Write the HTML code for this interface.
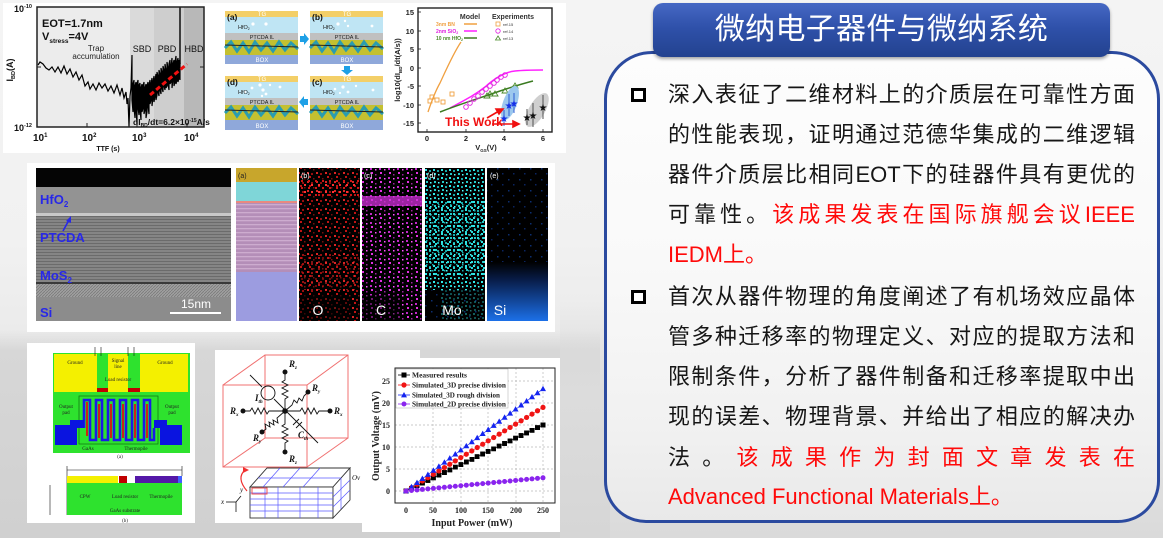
<!DOCTYPE html>
<html><head><meta charset="utf-8">
<style>
html,body{margin:0;padding:0;}
body{width:1163px;height:538px;position:relative;overflow:hidden;background:linear-gradient(180deg,#f4f4f4 0%,#f1f1f1 45%,#e6e6e6 75%,#dadada 100%);font-family:"Liberation Sans","Noto Sans CJK SC",sans-serif;}
.photo{position:absolute;left:0;top:330px;width:600px;height:208px;background:linear-gradient(180deg,rgba(215,215,215,0) 0%,rgba(215,215,215,1) 10%,rgba(208,208,208,1) 100%);}
.photo2{position:absolute;left:560px;top:300px;width:50px;height:238px;background:linear-gradient(180deg,rgba(225,225,225,0),#dcdcdc 40%,#d6d6d6);}
.box{position:absolute;left:604px;top:51px;width:550px;height:466px;border:3px solid #2b4a9f;border-radius:48px 48px 42px 42px;background:linear-gradient(180deg,#fdfdfd 0%,#f9f9f9 45%,#f1f1f1 80%,#e9e9e9 100%);}
.hdr{position:absolute;left:653px;top:3px;width:457px;height:54px;border-radius:10px;background:linear-gradient(180deg,#4668c4 0%,#2f51aa 45%,#23428f 100%);box-shadow:0 2px 3px rgba(0,0,0,.35);color:#fff;font-size:30px;line-height:54px;text-align:center;font-family:"Liberation Sans","Noto Sans CJK SC",sans-serif;letter-spacing:0.3px;}
.ln{position:absolute;left:668px;width:467px;height:40px;line-height:40px;font-size:22px;color:#161616;text-align:justify;text-align-last:justify;font-family:"Liberation Sans","Noto Sans CJK SC",sans-serif;}
.lf{text-align:left;text-align-last:left;}
.r{color:#ff0a0a;}
.bul{position:absolute;left:631px;width:15px;height:14px;border:3px solid #000;box-sizing:border-box;background:#fff;}
svg text{font-family:"Liberation Sans",sans-serif;}
.sf{font-family:"Liberation Serif",serif !important;}
</style></head>
<body>
<div class="photo"></div>
<div class="photo2"></div>

<svg xmlns="http://www.w3.org/2000/svg" width="600" height="538" style="position:absolute;left:0;top:0">
<defs>
<pattern id="pR" width="9" height="9" patternUnits="userSpaceOnUse">
 <rect x="1" y="1" width="2" height="2" fill="#ff2a2a"/><rect x="5" y="2" width="2" height="2" fill="#b01010"/>
 <rect x="3" y="5" width="2" height="2" fill="#e01818"/><rect x="7" y="7" width="1.5" height="1.5" fill="#901010"/>
</pattern>
<pattern id="pR2" width="7" height="7" patternUnits="userSpaceOnUse" patternTransform="translate(3,2)">
 <rect x="0" y="0" width="2" height="2" fill="#ff3030"/><rect x="4" y="3" width="2" height="2" fill="#d01515"/>
</pattern>
<pattern id="pM" width="9" height="9" patternUnits="userSpaceOnUse">
 <rect x="2" y="1" width="2" height="2" fill="#e030e0"/><rect x="6" y="3" width="1.5" height="1.5" fill="#a020a0"/>
 <rect x="1" y="6" width="2" height="2" fill="#c028c8"/><rect x="6" y="7" width="1.5" height="1.5" fill="#ff50ff"/>
</pattern>
<pattern id="pC" width="8" height="8" patternUnits="userSpaceOnUse">
 <rect x="1" y="1" width="2" height="2" fill="#30e8e8"/><rect x="5" y="2" width="2" height="2" fill="#18a8a8"/>
 <rect x="2" y="5" width="2" height="2" fill="#22c8c8"/><rect x="6" y="6" width="1.5" height="1.5" fill="#50ffff"/>
</pattern>
<pattern id="pC2" width="6" height="6" patternUnits="userSpaceOnUse" patternTransform="translate(3,3)">
 <rect x="0" y="0" width="2" height="2" fill="#2ad8d8"/><rect x="3" y="3" width="1.5" height="1.5" fill="#1ab0b0"/>
</pattern>
<pattern id="pB" width="11" height="11" patternUnits="userSpaceOnUse">
 <rect x="2" y="3" width="1.5" height="1.5" fill="#0c2e70"/><rect x="7" y="8" width="1.5" height="1.5" fill="#0a2460"/>
</pattern>
<pattern id="pS" width="4" height="3" patternUnits="userSpaceOnUse"><rect width="4" height="3" fill="#858585"/><rect width="4" height="1" fill="#6b6b6b"/></pattern>
<pattern id="pH" width="3" height="3" patternUnits="userSpaceOnUse"><rect width="3" height="3" fill="#a0a0a0"/><path d="M0,3 L3,0" stroke="#7a7a7a" stroke-width="0.8"/></pattern>
<pattern id="pP" width="4" height="4" patternUnits="userSpaceOnUse"><rect width="4" height="4" fill="#b48eb8"/><rect width="4" height="1.3" fill="#cdaccf"/></pattern>
<linearGradient id="gSi" x1="0" y1="0" x2="0" y2="1"><stop offset="0" stop-color="#000"/><stop offset="0.3" stop-color="#081c48"/><stop offset="1" stop-color="#1c70e8"/></linearGradient>
<marker id="mSq" markerWidth="5" markerHeight="5" refX="2.5" refY="2.5" markerUnits="userSpaceOnUse"><rect width="5" height="5" fill="#000"/></marker>
<marker id="mCi" markerWidth="6" markerHeight="6" refX="3" refY="3" markerUnits="userSpaceOnUse"><circle cx="3" cy="3" r="2.6" fill="#f01414"/></marker>
<marker id="mTr" markerWidth="6" markerHeight="6" refX="3" refY="3.2" markerUnits="userSpaceOnUse"><path d="M3,0 L6,5.4 L0,5.4Z" fill="#1424f0"/></marker>
<marker id="mDi" markerWidth="6" markerHeight="6" refX="3" refY="3" markerUnits="userSpaceOnUse"><circle cx="3" cy="3" r="2.5" fill="#8a24ee"/></marker>
</defs>

<!-- ===== TOP PANEL ===== -->
<rect x="3" y="3" width="563" height="150" fill="#fff"/>
<rect x="37" y="7" width="93" height="120" fill="#ececec"/>
<rect x="130" y="7" width="24" height="120" fill="#dadada"/>
<rect x="154" y="7" width="30" height="120" fill="#cecece"/>
<rect x="184" y="7" width="20" height="120" fill="#b8b8b8"/>
<line x1="180" y1="7" x2="180" y2="64" stroke="#000" stroke-width="1.4"/>
<polyline fill="none" stroke="#000" stroke-width="1.2" points="38,65 40,62 43,64 46,68 49,70 52,67 55,72 58,67 61,73 64,66 67,74 70,69 73,77 76,72 79,80 82,75 85,86 88,82 90,89 93,84 96,90 99,83 102,88 105,84 108,91 111,86 114,93 117,85 120,95 122,88 124,98 126,92 127,104 128,98 129,127 130,96 131,88 132,55 132,100 133,112 133,84 134,80 134,108 135,118 135,86 136,82 136,110 137,124 137,84 138,80 138,108 139,115 139,85 140,83 140,110 141,120 141,88 142,84 142,112 143,108 143,86 144,82 144,114 145,110 145,88 146,84 146,118 147,112 147,86 148,82 148,106 149,114 149,85 150,80 150,104 151,100 151,84 152,78 152,106 153,98 153,82 154,76 154,102 155,96 155,80 156,74 156,100 157,95 157,72 158,76 158,92 159,96 159,70 160,74 160,90 161,94 161,68 162,72 162,88 163,92 163,66 164,70 164,86 165,90 165,64 166,70 166,88 167,86 167,62 168,68 168,84 169,90 169,64 170,60 170,84 171,82 171,66 172,58 172,88 173,80 173,64 174,60 174,86 175,82 175,62 176,56 176,84 177,80 177,62 178,58 178,82 179,78 179,60 180,63 180,80"/>
<line x1="150" y1="95" x2="187" y2="64" stroke="#f01010" stroke-width="3" stroke-dasharray="5,3"/>
<rect x="37" y="7" width="167" height="120" fill="none" stroke="#222" stroke-width="1.5"/>
<g stroke="#222" stroke-width="1"><line x1="87" y1="127" x2="87" y2="123"/><line x1="137" y1="127" x2="137" y2="123"/><line x1="187" y1="127" x2="187" y2="123"/><line x1="37" y1="67" x2="41" y2="67"/><line x1="204" y1="67" x2="200" y2="67"/></g>
<g font-weight="bold" fill="#111">
<text x="14" y="12" font-size="9">10<tspan font-size="5.5" dy="-4">-10</tspan></text>
<text x="14" y="131" font-size="9">10<tspan font-size="5.5" dy="-4">-12</tspan></text>
<text x="33" y="141" font-size="10">10<tspan font-size="6" dy="-4">1</tspan></text>
<text x="82" y="141" font-size="10">10<tspan font-size="6" dy="-4">2</tspan></text>
<text x="132" y="141" font-size="10">10<tspan font-size="6" dy="-4">3</tspan></text>
<text x="184" y="141" font-size="10">10<tspan font-size="6" dy="-4">4</tspan></text>
<text x="108" y="151" font-size="7" text-anchor="middle">TTF (s)</text>
<text transform="translate(13,70) rotate(-90)" font-size="9" text-anchor="middle">I<tspan font-size="5.5" dy="2">BD</tspan><tspan dy="-2">(A)</tspan></text>
<text x="42" y="27" font-size="11">EOT=1.7nm</text>
<text x="42" y="40" font-size="11">V<tspan font-size="6.5" dy="3">stress</tspan><tspan dy="-3">=4V</tspan></text>
<text x="142" y="52" font-size="9" text-anchor="middle" font-weight="normal">SBD</text>
<text x="167" y="52" font-size="9" text-anchor="middle" font-weight="normal">PBD</text>
<text x="194" y="52" font-size="9" text-anchor="middle" font-weight="normal">HBD</text>
<text x="133" y="125" font-size="8.5">dI<tspan font-size="5" dy="2">BD</tspan><tspan dy="-2">/dt=6.2×10</tspan><tspan font-size="5" dy="-3">-15</tspan><tspan dy="3">A/s</tspan></text>
</g>
<text x="96" y="51" font-size="8" text-anchor="middle" fill="#222">Trap</text>
<text x="96" y="59" font-size="8" text-anchor="middle" fill="#222">accumulation</text>

<!-- plot 2 schematic -->
<g>
<rect x="225" y="11" width="73" height="6" fill="#f3cf68"/><rect x="225" y="17" width="73" height="16" fill="#bfe5f4"/><rect x="225" y="33" width="73" height="7" fill="#c0c0c0"/><rect x="225" y="40" width="73" height="15" fill="#c4c030"/><polyline points="225,48 231,42 237,51 243,43 249,52 255,42 261,50 267,43 273,51 279,42 285,50 291,43 298,49" fill="none" stroke="#2a9cb0" stroke-width="3"/><line x1="225" y1="45" x2="298" y2="47" stroke="#222" stroke-width="1"/><rect x="225" y="55" width="73" height="9" fill="#8fa8da"/>
<rect x="310" y="11" width="73" height="6" fill="#f3cf68"/><rect x="310" y="17" width="73" height="16" fill="#bfe5f4"/><rect x="310" y="33" width="73" height="7" fill="#c0c0c0"/><rect x="310" y="40" width="73" height="15" fill="#c4c030"/><polyline points="310,48 316,42 322,51 328,43 334,52 340,42 346,50 352,43 358,51 364,42 370,50 376,43 383,49" fill="none" stroke="#2a9cb0" stroke-width="3"/><line x1="310" y1="45" x2="383" y2="47" stroke="#222" stroke-width="1"/><rect x="310" y="55" width="73" height="9" fill="#8fa8da"/>
<rect x="225" y="76" width="73" height="6" fill="#f3cf68"/><rect x="225" y="82" width="73" height="16" fill="#bfe5f4"/><rect x="225" y="98" width="73" height="7" fill="#c0c0c0"/><rect x="225" y="105" width="73" height="15" fill="#c4c030"/><polyline points="225,113 231,107 237,116 243,108 249,117 255,107 261,115 267,108 273,116 279,107 285,115 291,108 298,114" fill="none" stroke="#2a9cb0" stroke-width="3"/><line x1="225" y1="110" x2="298" y2="112" stroke="#222" stroke-width="1"/><rect x="225" y="120" width="73" height="10" fill="#8fa8da"/>
<rect x="310" y="76" width="73" height="6" fill="#f3cf68"/><rect x="310" y="82" width="73" height="16" fill="#bfe5f4"/><rect x="310" y="98" width="73" height="7" fill="#c0c0c0"/><rect x="310" y="105" width="73" height="15" fill="#c4c030"/><polyline points="310,113 316,107 322,116 328,108 334,117 340,107 346,115 352,108 358,116 364,107 370,115 376,108 383,114" fill="none" stroke="#2a9cb0" stroke-width="3"/><line x1="310" y1="110" x2="383" y2="112" stroke="#222" stroke-width="1"/><rect x="310" y="120" width="73" height="10" fill="#8fa8da"/>
</g>
<g fill="#fff">
<circle cx="253" cy="24" r="1.6"/><circle cx="266" cy="24" r="1.6"/>
<circle cx="338" cy="24" r="1.6"/><circle cx="345" cy="21" r="1.2"/><circle cx="348" cy="26" r="1.2"/><circle cx="372" cy="26" r="1.4"/>
<circle cx="335" cy="89" r="1.3"/><circle cx="343" cy="87" r="1.6"/><circle cx="348" cy="92" r="1.4"/><circle cx="356" cy="86" r="1.2"/><circle cx="373" cy="90" r="1.4"/><circle cx="340" cy="93" r="1.1"/>
<circle cx="252" cy="88" r="1.4"/><circle cx="260" cy="85" r="1.6"/><circle cx="263" cy="90" r="1.6"/><circle cx="266" cy="94" r="1.4"/><circle cx="262" cy="96" r="1.2"/><circle cx="280" cy="87" r="1.4"/><circle cx="270" cy="85" r="1.2"/><circle cx="245" cy="92" r="1.1"/>
</g>
<g font-size="8.5" font-weight="bold" fill="#111"><text x="227" y="20">(a)</text><text x="312" y="20">(b)</text><text x="227" y="85">(d)</text><text x="312" y="85">(c)</text></g>
<g font-size="6" fill="#fff" text-anchor="middle"><text x="262" y="16">TG</text><text x="347" y="16">TG</text><text x="262" y="81">TG</text><text x="347" y="81">TG</text><text x="262" y="62">BOX</text><text x="347" y="62">BOX</text><text x="262" y="128">BOX</text><text x="347" y="128">BOX</text></g>
<g font-size="5.5" fill="#222"><text x="238" y="29">HfO<tspan font-size="3.5" dy="1">2</tspan></text><text x="323" y="29">HfO<tspan font-size="3.5" dy="1">2</tspan></text><text x="238" y="94">HfO<tspan font-size="3.5" dy="1">2</tspan></text><text x="323" y="94">HfO<tspan font-size="3.5" dy="1">2</tspan></text></g>
<g font-size="5.5" fill="#222" text-anchor="middle"><text x="262" y="39">PTCDA IL</text><text x="347" y="39">PTCDA IL</text><text x="262" y="104">PTCDA IL</text><text x="347" y="104">PTCDA IL</text></g>
<g fill="#1ea0e6"><path d="M300,36 L304,36 L304,33 L309,39 L304,45 L304,42 L300,42Z"/><path d="M344,66 L350,66 L350,70 L353,70 L347,75 L341,70 L344,70Z"/><path d="M308,99 L304,99 L304,96 L299,102 L304,108 L304,105 L308,105Z"/></g>

<!-- plot 3 -->
<rect x="418" y="8" width="134" height="124" fill="#fff" stroke="#222" stroke-width="1.4"/>
<g stroke="#222" stroke-width="0.8"><line x1="418" y1="12" x2="421" y2="12"/><line x1="418" y1="31" x2="421" y2="31"/><line x1="418" y1="49" x2="421" y2="49"/><line x1="418" y1="68" x2="421" y2="68"/><line x1="418" y1="86" x2="421" y2="86"/><line x1="418" y1="105" x2="421" y2="105"/><line x1="418" y1="123" x2="421" y2="123"/><line x1="427" y1="132" x2="427" y2="129"/><line x1="466" y1="132" x2="466" y2="129"/><line x1="504" y1="132" x2="504" y2="129"/><line x1="543" y1="132" x2="543" y2="129"/></g>
<g font-size="7.5" font-weight="bold" fill="#222" text-anchor="end"><text x="414" y="15">15</text><text x="414" y="34">10</text><text x="414" y="52">5</text><text x="414" y="71">0</text><text x="414" y="89">-5</text><text x="414" y="108">-10</text><text x="414" y="126">-15</text></g>
<g font-size="7.5" font-weight="bold" fill="#222" text-anchor="middle"><text x="427" y="141">0</text><text x="466" y="141">2</text><text x="504" y="141">4</text><text x="543" y="141">6</text></g>
<text x="486" y="150" font-size="7.5" font-weight="bold" fill="#222" text-anchor="middle">V<tspan font-size="4.5" dy="2">GS</tspan><tspan dy="-2">(V)</tspan></text>
<text transform="translate(400,70) rotate(-90)" font-size="7.5" font-weight="bold" fill="#222" text-anchor="middle">log10(dI<tspan font-size="4.5" dy="2">BD</tspan><tspan dy="-2">/dt(A/s))</tspan></text>
<text x="470" y="19" font-size="7" font-weight="bold" fill="#333" text-anchor="middle">Model</text>
<text x="513" y="19" font-size="7" font-weight="bold" fill="#333" text-anchor="middle">Experiments</text>
<g font-size="5" font-weight="bold"><text x="436" y="26" fill="#f0a040">3nm BN</text><text x="436" y="33" fill="#e020e0">2nm SiO<tspan font-size="3.5" dy="1">2</tspan></text><text x="436" y="40" fill="#4a8a2a">10 nm HfO<tspan font-size="3.5" dy="1">2</tspan></text></g>
<line x1="464" y1="24" x2="477" y2="24" stroke="#f0a040" stroke-width="1.5"/><line x1="464" y1="31" x2="477" y2="31" stroke="#ff20ff" stroke-width="1.5"/><line x1="464" y1="38" x2="477" y2="38" stroke="#3a7a20" stroke-width="1.5"/>
<rect x="496" y="22" width="4" height="4" fill="none" stroke="#f0a040" stroke-width="0.8"/><circle cx="498" cy="31" r="2.2" fill="none" stroke="#e020e0" stroke-width="0.8"/><path d="M498,36 L500.5,40 L495.5,40Z" fill="none" stroke="#4a8a2a" stroke-width="0.8"/>
<g font-size="4" fill="#333"><text x="503" y="26">ref.15</text><text x="503" y="33">ref.14</text><text x="503" y="40">ref.13</text></g>
<path d="M428,112 C432,100 436,90 440,83 C446,70 454,52 461,42" fill="none" stroke="#f0a040" stroke-width="1.3"/>
<path d="M450,108 C465,100 475,95 485,87 C495,78 505,72 515,71 C525,70 535,70 543,70" fill="none" stroke="#ff20ff" stroke-width="1.5"/>
<path d="M440,112 C460,104 480,98 500,91 C515,86 525,83 533,81" fill="none" stroke="#3a7a20" stroke-width="1.5"/>
<g fill="none" stroke="#f0a040" stroke-width="0.9"><rect x="430" y="95" width="4" height="4"/><rect x="428" y="99" width="4" height="4"/><rect x="435" y="98" width="4" height="4"/><rect x="441" y="100" width="4" height="4"/><rect x="450" y="92" width="4" height="4"/></g>
<g fill="none" stroke="#e020e0" stroke-width="0.9"><circle cx="466" cy="107" r="2.3"/><circle cx="470" cy="103" r="2.3"/><circle cx="474" cy="99" r="2.3"/><circle cx="478" cy="96" r="2.3"/><circle cx="482" cy="92" r="2.3"/><circle cx="486" cy="89" r="2.3"/><circle cx="490" cy="86" r="2.3"/><circle cx="494" cy="83" r="2.3"/><circle cx="497" cy="80" r="2.3"/><circle cx="501" cy="77" r="2.3"/><circle cx="505" cy="75" r="2.3"/></g>
<g fill="none" stroke="#4a8a2a" stroke-width="0.9"><path d="M487,93 L490,98 L484,98Z"/><path d="M490,91 L493,96 L487,96Z"/><path d="M495,91 L498,96 L492,96Z"/><path d="M505,88 L508,93 L502,93Z"/><path d="M513,86 L516,91 L510,91Z"/><path d="M515,83 L518,88 L512,88Z"/></g>
<ellipse cx="510" cy="103" rx="7" ry="18" transform="rotate(20 510 103)" fill="#9cc8ee"/>
<ellipse cx="537" cy="110" rx="8" ry="19" transform="rotate(30 537 110)" fill="#cfcfcf"/>
<g stroke="#2050d0" stroke-width="0.9"><line x1="504" y1="110" x2="504" y2="126"/><line x1="509" y1="94" x2="509" y2="116"/><line x1="514" y1="93" x2="514" y2="113"/></g>
<g stroke="#444" stroke-width="0.9"><line x1="527" y1="109" x2="527" y2="125"/><line x1="533" y1="103" x2="533" y2="127"/><line x1="543" y1="95" x2="543" y2="119"/></g>
<g font-size="10" text-anchor="middle"><text x="504" y="122" fill="#1530e8" style="font-family:'DejaVu Sans'">★</text><text x="509" y="109" fill="#1530e8" style="font-family:'DejaVu Sans'">★</text><text x="514" y="107" fill="#1530e8" style="font-family:'DejaVu Sans'">★</text><text x="527" y="121" fill="#111" style="font-family:'DejaVu Sans'">★</text><text x="533" y="119" fill="#111" style="font-family:'DejaVu Sans'">★</text><text x="543" y="111" fill="#111" style="font-family:'DejaVu Sans'">★</text></g>
<text x="445" y="126" font-size="12" font-weight="bold" fill="#f01010">This Work</text>
<g stroke="#f01010" stroke-width="1.6" fill="#f01010"><line x1="487" y1="118" x2="499" y2="111"/><path d="M503,109 L496,109 L499,114Z"/><line x1="492" y1="124" x2="514" y2="124"/><path d="M519,124 L513,121 L513,127Z"/></g>

<!-- ===== MIDDLE PANEL ===== -->
<rect x="27" y="163" width="528" height="169" fill="#fff"/>
<rect x="36" y="168" width="195" height="19" fill="#050505"/>
<rect x="36" y="187" width="195" height="26" fill="#939393"/>
<rect x="36" y="213" width="195" height="3" fill="#c9c9c9"/>
<rect x="36" y="216" width="195" height="66" fill="url(#pS)"/>
<rect x="36" y="282" width="195" height="2" fill="#3a3a3a"/>
<rect x="36" y="284" width="195" height="13" fill="url(#pH)"/>
<rect x="36" y="297" width="195" height="24" fill="#8c8c8c"/>
<g fill="#2828e8" font-weight="bold" font-size="13">
<text x="40" y="204">HfO<tspan font-size="8" dy="3">2</tspan></text>
<text x="40" y="242">PTCDA</text>
<text x="40" y="280">MoS<tspan font-size="8" dy="3">2</tspan></text>
<text x="40" y="317">Si</text>
</g>
<line x1="63" y1="231" x2="69" y2="220" stroke="#2828e8" stroke-width="1.6"/><path d="M71,216 L66,221 L71,223Z" fill="#2828e8"/>
<line x1="170" y1="313" x2="221" y2="313" stroke="#fff" stroke-width="2"/>
<text x="196" y="308" font-size="12" fill="#fff" text-anchor="middle">15nm</text>
<rect x="236" y="168" width="61" height="14" fill="#c8a62c"/>
<rect x="236" y="182" width="61" height="19" fill="#7fd6d8"/>
<rect x="236" y="201" width="61" height="2" fill="#e88a80"/>
<rect x="236" y="203" width="61" height="69" fill="url(#pP)"/>
<rect x="236" y="272" width="61" height="49" fill="#9c9ce0"/>
<text x="238" y="178" font-size="7" fill="#222">(a)</text>
<rect x="299" y="168" width="61" height="153" fill="#000"/>
<rect x="299" y="168" width="61" height="153" fill="url(#pR)" opacity="0.85"/>
<rect x="299" y="180" width="61" height="16" fill="url(#pR2)"/>
<rect x="299" y="255" width="61" height="35" fill="url(#pR2)" opacity="0.5"/>
<rect x="299" y="295" width="50" height="26" fill="#000" opacity="0.5"/>
<rect x="362" y="168" width="60" height="153" fill="#000"/>
<rect x="362" y="168" width="60" height="153" fill="url(#pM)"/>
<rect x="362" y="196" width="60" height="10" fill="#d030d8" opacity="0.75"/>
<rect x="362" y="295" width="40" height="26" fill="#000" opacity="0.5"/>
<rect x="425" y="168" width="60" height="153" fill="#000"/>
<rect x="425" y="168" width="60" height="122" fill="url(#pC)"/>
<rect x="425" y="200" width="60" height="75" fill="url(#pC2)"/>
<rect x="425" y="290" width="60" height="31" fill="url(#pB)"/>
<rect x="440" y="290" width="45" height="31" fill="url(#pC)" opacity="0.4"/>
<rect x="487" y="168" width="61" height="153" fill="#000"/>
<rect x="487" y="168" width="61" height="153" fill="url(#pB)"/>
<rect x="487" y="262" width="61" height="59" fill="url(#gSi)"/>
<g fill="#fff" font-size="7"><text x="301" y="178">(b)</text><text x="364" y="178">(c)</text><text x="427" y="178">(d)</text><text x="490" y="178">(e)</text></g>
<g fill="#fff" font-size="14" text-anchor="middle"><text x="318" y="315">O</text><text x="381" y="315">C</text><text x="452" y="315">Mo</text><text x="500" y="315">Si</text></g>

<!-- ===== BOTTOM PANEL 1 ===== -->
<rect x="27" y="343" width="168" height="180" fill="#fff"/>
<rect x="53" y="353" width="137" height="100" fill="#2ee22e"/>
<rect x="54" y="354" width="43" height="38" fill="#f4f000"/>
<rect x="108" y="354" width="20" height="38" fill="#f4f000"/>
<rect x="140" y="354" width="48" height="38" fill="#f4f000"/>
<rect x="97" y="388" width="11" height="4" fill="#c00000"/>
<rect x="128" y="388" width="12" height="4" fill="#c00000"/>
<rect x="79" y="396" width="79" height="48" fill="none" stroke="#137a13" stroke-width="0.8"/>
<path d="M84,428 V400 H90 V440 H96 V400 H102 V440 H108 V400 H114 V440 H120 V400 H126 V440 H132 V400 H138 V440 H144 V400 H150 V440 H154 V428" fill="none" stroke="#1a1ae8" stroke-width="2.6"/>
<g stroke="#e01010" stroke-width="1.8"><line x1="87" y1="402" x2="87" y2="436"/><line x1="99" y1="404" x2="99" y2="438"/><line x1="111" y1="404" x2="111" y2="438"/><line x1="123" y1="404" x2="123" y2="438"/><line x1="135" y1="404" x2="135" y2="438"/><line x1="147" y1="404" x2="147" y2="438"/></g>
<path d="M55,425 H70 V420 H84 V428 H77 V445 H55Z" fill="#0a14e0"/>
<path d="M182,425 H167 V420 H154 V428 H160 V445 H182Z" fill="#0a14e0"/>
<g font-size="5" fill="#222" text-anchor="middle">
<text x="75" y="364" class="sf">Ground</text><text x="165" y="364" class="sf">Ground</text>
<text x="118" y="362" class="sf">Signal</text><text x="118" y="368" class="sf">line</text>
<text x="118" y="381" class="sf">Load resistor</text>
<text x="66" y="408" class="sf">Output</text><text x="66" y="414" class="sf">pad</text>
<text x="172" y="408" class="sf">Output</text><text x="172" y="414" class="sf">pad</text>
<text x="88" y="450" class="sf">GaAs</text><text x="136" y="450" class="sf">Thermopile</text>
<text x="120" y="458" class="sf">(a)</text>
<text x="125" y="522" class="sf">(b)</text>
</g>
<g stroke="#111" stroke-width="0.6"><line x1="95" y1="347" x2="95" y2="356"/><line x1="101" y1="347" x2="101" y2="356"/><line x1="128" y1="347" x2="128" y2="356"/><line x1="134" y1="347" x2="134" y2="356"/><line x1="67" y1="470" x2="182" y2="470"/><line x1="67" y1="466" x2="67" y2="515"/><line x1="182" y1="466" x2="182" y2="476"/><line x1="50" y1="485" x2="50" y2="515"/></g>
<rect x="67" y="476" width="51" height="7" fill="#f4f000"/>
<rect x="119" y="476" width="8" height="7" fill="#c00000"/>
<rect x="135" y="476" width="43" height="7" fill="#5418a8"/>
<rect x="178" y="476" width="4" height="7" fill="#4060ff"/>
<rect x="67" y="483" width="115" height="32" fill="#2ee22e"/>
<text x="125" y="512" font-size="5" fill="#222" text-anchor="middle" class="sf">GaAs substrate</text>
<text x="85" y="498" font-size="5" fill="#222" text-anchor="middle" class="sf">CPW</text>
<text x="125" y="498" font-size="5" fill="#222" text-anchor="middle" class="sf">Load resistor</text>
<text x="161" y="498" font-size="5" fill="#222" text-anchor="middle" class="sf">Thermopile</text>

<!-- ===== BOTTOM PANEL 2 ===== -->
<rect x="215" y="350" width="160" height="173" fill="#fff"/>
<rect x="375" y="350" width="45" height="9" fill="#fff"/>
<g stroke="#f07070" stroke-width="1" fill="none">
<rect x="223" y="385" width="84" height="82"/><rect x="265" y="355" width="83" height="83"/>
<line x1="223" y1="385" x2="265" y2="355"/><line x1="307" y1="385" x2="348" y2="355"/><line x1="223" y1="467" x2="265" y2="438"/><line x1="307" y1="467" x2="348" y2="438"/>
</g>
<g stroke="#111" stroke-width="0.9" fill="none">
<polyline points="285,372 285,380 282,382 288,385 282,388 288,391 282,394 288,397 285,399 285,424 282,426 288,429 282,432 288,435 282,438 288,441 285,443 285,452"/>
<polyline points="243,411 250,411 252,408 255,414 258,408 261,414 264,408 267,414 269,411 300,411 302,408 305,414 308,408 311,414 314,408 317,414 319,411 330,411"/>
<polyline points="262,432 266,429 265,424 270,427 269,422 274,425 273,420 278,423 277,418 285,411 292,405 294,400 297,403 299,398 302,401 304,396 308,392"/>
<line x1="250" y1="375" x2="262" y2="387"/><line x1="274" y1="399" x2="318" y2="443"/>
<circle cx="268" cy="393" r="7"/>
<line x1="293" y1="425" x2="299" y2="419"/><line x1="296" y1="428" x2="302" y2="422"/>
</g>
<g fill="#111"><circle cx="285" cy="372" r="2.5"/><circle cx="285" cy="452" r="2.5"/><circle cx="243" cy="411" r="2.5"/><circle cx="330" cy="411" r="2.5"/><circle cx="262" cy="432" r="2.5"/><circle cx="308" cy="392" r="2.5"/><circle cx="285" cy="411" r="2.8"/></g>
<g font-size="9" font-style="italic" font-weight="bold" fill="#111">
<text x="289" y="367" class="sf">R<tspan font-size="5" dy="2">z</tspan></text><text x="289" y="462" class="sf">R<tspan font-size="5" dy="2">z</tspan></text>
<text x="230" y="414" class="sf">R<tspan font-size="5" dy="2">x</tspan></text><text x="334" y="414" class="sf">R<tspan font-size="5" dy="2">x</tspan></text>
<text x="253" y="441" class="sf">R<tspan font-size="5" dy="2">y</tspan></text><text x="312" y="391" class="sf">R<tspan font-size="5" dy="2">y</tspan></text>
<text x="255" y="401" class="sf">I<tspan font-size="5" dy="2">th</tspan></text><text x="298" y="438" class="sf">C<tspan font-size="5" dy="2">th</tspan></text>
</g>
<polygon points="250,487 267,468 350,468 333,487" fill="#fff" stroke="#333" stroke-width="0.9"/>
<rect x="250" y="487" width="83" height="31" fill="#fff" stroke="#333" stroke-width="0.9"/>
<polygon points="333,487 350,468 350,500 333,518" fill="#fff" stroke="#333" stroke-width="0.9"/>
<g stroke="#5a5aff" stroke-width="0.7">
<line x1="250" y1="493" x2="333" y2="493"/><line x1="250" y1="499" x2="333" y2="499"/><line x1="250" y1="505" x2="333" y2="505"/><line x1="250" y1="511" x2="333" y2="511"/>
<line x1="265" y1="487" x2="265" y2="518"/><line x1="278" y1="487" x2="278" y2="518"/><line x1="300" y1="487" x2="300" y2="518"/><line x1="318" y1="487" x2="318" y2="518"/>
<line x1="258" y1="478" x2="341" y2="478"/><line x1="280" y1="468" x2="263" y2="487"/><line x1="300" y1="468" x2="283" y2="487"/><line x1="320" y1="468" x2="303" y2="487"/>
<line x1="333" y1="497" x2="350" y2="480"/><line x1="333" y1="507" x2="350" y2="490"/><line x1="341" y1="478" x2="341" y2="509"/>
</g>
<rect x="252" y="488" width="15" height="6" fill="none" stroke="#f05050" stroke-width="1"/>
<path d="M247,491 Q236,478 245,470" fill="none" stroke="#f03030" stroke-width="1.2"/><path d="M243,467 L249,470 L243,473Z" fill="#f03030"/>
<g font-size="7" font-style="italic" fill="#111"><text x="221" y="504" class="sf">x</text><text x="240" y="492" class="sf">y</text><text x="352" y="480" class="sf">Ov</text></g>
<g stroke="#111" stroke-width="0.8"><line x1="226" y1="502" x2="236" y2="502"/><line x1="236" y1="502" x2="241" y2="496"/><line x1="236" y1="502" x2="236" y2="512"/></g>

<!-- ===== BOTTOM PANEL 3 ===== -->
<rect x="362" y="358" width="198" height="174" fill="#fff"/>
<g stroke="#b8b8b8" stroke-width="0.7" stroke-dasharray="2,2">
<line x1="433" y1="368" x2="433" y2="503"/><line x1="461" y1="368" x2="461" y2="503"/><line x1="488" y1="368" x2="488" y2="503"/><line x1="516" y1="368" x2="516" y2="503"/><line x1="543" y1="368" x2="543" y2="503"/>
<line x1="395" y1="491" x2="555" y2="491"/><line x1="395" y1="469" x2="555" y2="469"/><line x1="395" y1="447" x2="555" y2="447"/><line x1="395" y1="425" x2="555" y2="425"/><line x1="395" y1="403" x2="555" y2="403"/><line x1="395" y1="381" x2="555" y2="381"/>
</g>
<rect x="395" y="368" width="160" height="135" fill="none" stroke="#222" stroke-width="1"/>
<g font-size="8" font-weight="bold" fill="#222" text-anchor="middle">
<text x="406" y="513" class="sf">0</text><text x="433" y="513" class="sf">50</text><text x="461" y="513" class="sf">100</text><text x="488" y="513" class="sf">150</text><text x="516" y="513" class="sf">200</text><text x="543" y="513" class="sf">250</text>
</g>
<g font-size="8" font-weight="bold" fill="#222" text-anchor="end">
<text x="390" y="494" class="sf">0</text><text x="390" y="472" class="sf">5</text><text x="390" y="450" class="sf">10</text><text x="390" y="428" class="sf">15</text><text x="390" y="406" class="sf">20</text><text x="390" y="384" class="sf">25</text>
</g>
<text x="472" y="526" font-size="10" font-weight="bold" fill="#222" text-anchor="middle" class="sf">Input Power (mW)</text>
<text transform="translate(379,436) rotate(-90)" font-size="10" font-weight="bold" fill="#222" text-anchor="middle" class="sf">Output Voltage (mV)</text>
<polyline fill="none" stroke="#000" stroke-width="0.6" marker-start="url(#mSq)" marker-mid="url(#mSq)" marker-end="url(#mSq)" points="406,491 411.5,488.36 417,485.72 422.4,483.08 427.9,480.44 433.4,477.8 438.9,475.16 444.4,472.52 449.8,469.88 455.3,467.24 460.8,464.6 466.3,461.96 471.8,459.32 477.2,456.68 482.7,454.04 488.2,451.4 493.7,448.76 499.2,446.12 504.6,443.48 510.1,440.84 515.6,438.2 521.1,435.56 526.6,432.92 532,430.28 537.5,427.64 543,425"/>
<polyline fill="none" stroke="#f01414" stroke-width="0.6" marker-start="url(#mCi)" marker-mid="url(#mCi)" marker-end="url(#mCi)" points="406,491 411.5,487.66 417,484.31 422.4,480.97 427.9,477.62 433.4,474.28 438.9,470.94 444.4,467.59 449.8,464.25 455.3,460.9 460.8,457.56 466.3,454.22 471.8,450.87 477.2,447.53 482.7,444.18 488.2,440.84 493.7,437.5 499.2,434.15 504.6,430.81 510.1,427.46 515.6,424.12 521.1,420.78 526.6,417.43 532,414.09 537.5,410.74 543,407.4"/>
<polyline fill="none" stroke="#1424f0" stroke-width="0.6" marker-start="url(#mTr)" marker-mid="url(#mTr)" marker-end="url(#mTr)" points="406,491 411.5,486.92 417,482.83 422.4,478.75 427.9,474.67 433.4,470.58 438.9,466.5 444.4,462.42 449.8,458.34 455.3,454.25 460.8,450.17 466.3,446.09 471.8,442 477.2,437.92 482.7,433.84 488.2,429.75 493.7,425.67 499.2,421.59 504.6,417.51 510.1,413.42 515.6,409.34 521.1,405.26 526.6,401.17 532,397.09 537.5,393.01 543,388.92"/>
<polyline fill="none" stroke="#8a24ee" stroke-width="0.6" marker-start="url(#mDi)" marker-mid="url(#mDi)" marker-end="url(#mDi)" points="406,491 411.5,490.47 417,489.94 422.4,489.42 427.9,488.89 433.4,488.36 438.9,487.83 444.4,487.3 449.8,486.78 455.3,486.25 460.8,485.72 466.3,485.19 471.8,484.66 477.2,484.14 482.7,483.61 488.2,483.08 493.7,482.55 499.2,482.02 504.6,481.5 510.1,480.97 515.6,480.44 521.1,479.91 526.6,479.38 532,478.86 537.5,478.33 543,477.8"/>
<rect x="396" y="369" width="112" height="39" fill="#fff" stroke="#aaa" stroke-width="0.5"/>
<line x1="398" y1="375" x2="410" y2="375" stroke="#000" stroke-width="0.8"/><rect x="401.5" y="372.5" width="5" height="5" fill="#000"/>
<line x1="398" y1="385" x2="410" y2="385" stroke="#f01414" stroke-width="0.8"/><circle cx="404" cy="385" r="2.6" fill="#f01414"/>
<line x1="398" y1="395" x2="410" y2="395" stroke="#1424f0" stroke-width="0.8"/><path d="M404,392 L407,397.4 L401,397.4Z" fill="#1424f0"/>
<line x1="398" y1="404" x2="410" y2="404" stroke="#8a24ee" stroke-width="0.8"/><circle cx="404" cy="404" r="2.5" fill="#8a24ee"/>
<g font-size="7" font-weight="bold" fill="#222">
<text x="412" y="377.5" class="sf" textLength="55" lengthAdjust="spacingAndGlyphs">Measured results</text>
<text x="412" y="387.5" class="sf" textLength="94" lengthAdjust="spacingAndGlyphs">Simulated_3D precise division</text>
<text x="412" y="397.5" class="sf" textLength="88" lengthAdjust="spacingAndGlyphs">Simulated_3D rough division</text>
<text x="412" y="406.5" class="sf" textLength="94" lengthAdjust="spacingAndGlyphs">Simulated_2D precise division</text>
</g>
</svg>

<div class="box"></div>
<div class="hdr">微纳电子器件与微纳系统</div>

<div class="bul" style="top:88px"></div>
<div class="bul" style="top:290px"></div>

<div class="ln" style="top:75px">深入表征了二维材料上的介质层在可靠性方面</div>
<div class="ln" style="top:115px">的性能表现，证明通过范德华集成的二维逻辑</div>
<div class="ln" style="top:155px">器件介质层比相同EOT下的硅器件具有更优的</div>
<div class="ln" style="top:195px">可靠性。<span class="r">该成果发表在国际旗舰会议IEEE</span></div>
<div class="ln lf r" style="top:235px">IEDM上。</div>
<div class="ln" style="top:277px">首次从器件物理的角度阐述了有机场效应晶体</div>
<div class="ln" style="top:317px">管多种迁移率的物理定义、对应的提取方法和</div>
<div class="ln" style="top:357px">限制条件，分析了器件制备和迁移率提取中出</div>
<div class="ln" style="top:397px">现的误差、物理背景、并给出了相应的解决办</div>
<div class="ln" style="top:438px">法。<span class="r">该成果作为封面文章发表在</span></div>
<div class="ln lf r" style="top:477px">Advanced Functional Materials上。</div>
</body></html>
